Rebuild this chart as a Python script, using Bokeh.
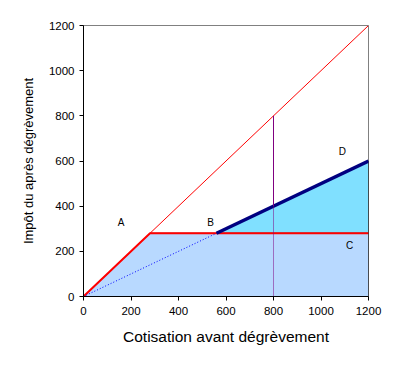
from bokeh.plotting import figure
from bokeh.models import Range1d, FixedTicker
from bokeh.embed import file_html
from bokeh.resources import INLINE
from bokeh.core.properties import value

# Data
ticks = [0, 200, 400, 600, 800, 1000, 1200]
diag_x = [0, 1200]
diag_y = [0, 1200]
cap_x = [0, 280, 1200]
cap_y = [0, 280, 280]
half_dot_x = [0, 560]
half_dot_y = [0, 280]
half_x = [560, 1200]
half_y = [280, 600]
low_area_x = [0, 280, 1200, 1200]
low_area_y = [0, 280, 280, 0]
up_area_x = [560, 1200, 1200]
up_area_y = [280, 600, 280]
vert_dot_x = [800, 800]
vert_dot_y = [0, 400]
vert_x = [800, 800]
vert_y = [400, 800]
lab_text = ["A", "B", "C", "D"]
lab_x = [158, 535, 1120, 1090]
lab_y = [328, 328, 226, 642]

FONT = "Liberation Sans"

p = figure(width=389, height=361, output_backend="svg", toolbar_location=None,
           x_range=Range1d(0, 1200), y_range=Range1d(0, 1200),
           min_border_left=83, min_border_right=21, min_border_top=25, min_border_bottom=65)
p.xgrid.visible = False
p.ygrid.visible = False
p.outline_line_color = "#808080"
p.outline_line_width = 1

p.patch(low_area_x, low_area_y, fill_color="#b8d9ff", line_color="black", line_width=1)
p.patch(up_area_x, up_area_y, fill_color="#80e0ff", line_color="black", line_width=1)

p.line(diag_x, diag_y, line_color="red", line_width=1)
p.line(cap_x, cap_y, line_color="red", line_width=2)
p.line(half_dot_x, half_dot_y, line_color="blue", line_width=1, line_dash="1 2")
p.line(half_x, half_y, line_color="#000080", line_width=3.5)
p.line(vert_dot_x, vert_dot_y, line_color="#800080", line_width=1, line_dash="1 1")
p.line(vert_x, vert_y, line_color="#800080", line_width=1)

p.text(lab_x, lab_y, text=lab_text, text_font=value(FONT), text_font_size="10px",
       text_align="center", text_baseline="middle", text_color="black")

for ax in (p.xaxis[0], p.yaxis[0]):
    ax.ticker = FixedTicker(ticks=ticks)
    ax.minor_tick_line_color = None
    ax.major_tick_out = 4
    ax.major_tick_in = 0
    ax.axis_line_color = "black"
    ax.major_tick_line_color = "black"
    ax.major_label_text_font = FONT
    ax.major_label_text_font_size = "11.5px"
    ax.major_label_text_color = "black"
    ax.axis_label_text_font = FONT
    ax.axis_label_text_font_style = "normal"
    ax.axis_label_text_color = "black"

p.xaxis.axis_label = "Cotisation avant dégrèvement"
p.yaxis.axis_label = "Impôt du après dégrèvement"
p.xaxis.axis_label_text_font_size = "15.5px"
p.yaxis.axis_label_text_font_size = "13px"
p.xaxis.major_label_standoff = 6
p.yaxis.major_label_standoff = 5
p.xaxis.axis_label_standoff = 10
p.yaxis.axis_label_standoff = 10

open("out.html", "w").write(file_html(p, INLINE))
